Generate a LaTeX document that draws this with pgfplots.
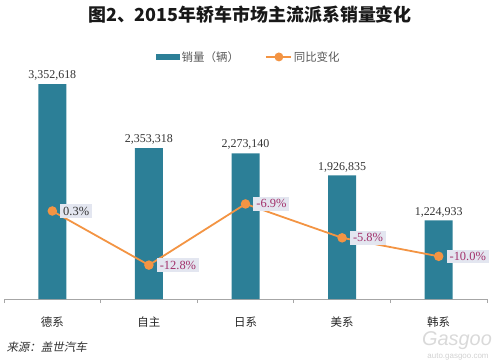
\documentclass[border=0pt]{standalone}
\usepackage{pgfplots}
\pgfplotsset{compat=1.18}
\usepackage{pgfplotstable}
\usepackage{fontspec}
\setmainfont{Liberation Serif}
\newfontfamily\cjk{Noto Sans CJK SC}
\newfontfamily\cjkit[FakeSlant=0.2]{Noto Sans CJK SC}
\newfontfamily\sans{Liberation Sans}
\definecolor{barc}{HTML}{2C7F97}
\definecolor{linec}{HTML}{F39443}
\definecolor{boxfill}{HTML}{E3E6F0}
\definecolor{labmag}{HTML}{A3316B}
\definecolor{labdark}{HTML}{333333}
\definecolor{legtext}{HTML}{595959}

\pgfplotstableread{
x y lab
0 3352618 3,352,618
1 2353318 2,353,318
2 2273140 2,273,140
3 1926835 1,926,835
4 1224933 1,224,933
}\bardata

\pgfplotstableread{
x y lab c
0 0.3 0.3 0
1 -12.0 -12.8 1
2 1.9 -6.9 1
3 -5.8 -5.8 1
4 -10.0 -10.0 1
}\linedata

\begin{document}
\begin{tikzpicture}
\useasboundingbox (0,0) rectangle (500bp,363bp);
\node[font=\cjk\bfseries\fontsize{18}{18}\selectfont, text=black!90] at (250bp,348bp) {图2、2015年轿车市场主流派系销量变化};

\begin{axis}[
  at={(4bp,64bp)}, anchor=south west,
  scale only axis, width=483bp, height=235bp,
  xmin=-0.5, xmax=4.5, ymin=0, ymax=3666000,
  axis x line*=bottom, axis y line=none,
  axis line style={gray!70, line width=0.8pt},
  xtick={0,1,2,3,4},
  xticklabels={德系,自主,日系,美系,韩系},
  major tick length=0pt,
  minor xtick={-0.5,0.5,1.5,2.5,3.5,4.5},
  minor tick length=4bp,
  tick align=outside,
  minor tick style={gray!70, line width=0.8pt},
  xticklabel style={anchor=center, yshift=-23bp, font=\cjk\fontsize{11.5}{12}\selectfont, text=black!85},
  ybar, bar width=28bp,
  nodes near coords, point meta=explicit symbolic,
  every node near coord/.append style={font=\fontsize{12}{12}\selectfont, text=labdark},
  clip=false,
]
\addplot[fill=barc, draw=none] table[x=x, y=y, meta=lab] {\bardata};
\end{axis}

\begin{axis}[
  at={(4bp,64bp)}, anchor=south west,
  scale only axis, width=483bp, height=235bp,
  xmin=-0.5, xmax=4.5, ymin=-19.7, ymax=33.7,
  axis lines=none,
  clip=false,
  legend columns=2,
  legend cell align=left,
  legend style={draw=none, fill=none, at={(axis description cs:0.315,1.03)}, anchor=west,
    inner sep=0pt, font=\cjk\fontsize{11.5}{12}\selectfont, text=legtext,
    /tikz/every even column/.append style={column sep=24bp}},
]
\addlegendimage{legend image code/.code={\fill[barc] (0bp,-2.5bp) rectangle (23bp,2.5bp);}}
\addlegendentry{销量（辆）}
\addplot[color=linec, line width=1.8bp, mark=*, mark size=3.8bp,
  mark options={fill=linec, draw=linec},
  legend image code/.code={\draw[linec, line width=1.8bp] (0bp,0bp) -- (25bp,0bp); \fill[linec] (13bp,0bp) circle (3.5bp);},
  nodes near coords={\ifdim\labc pt<0.5pt\color{labdark}\else\color{labmag}\fi\pgfplotspointmeta\%},
  point meta=explicit symbolic,
  visualization depends on={\thisrow{c} \as \labc},
  every node near coord/.append style={anchor=west, xshift=7bp, fill=boxfill, inner xsep=3bp, inner ysep=2.5bp, font=\fontsize{12.5}{13}\selectfont},
] table[x=x, y=y, meta=lab] {\linedata};
\addlegendentry{同比变化}
\end{axis}

\node[anchor=west, font=\cjkit\fontsize{11.5}{12}\selectfont, text=black!80] at (3bp,16bp) {来源：盖世汽车};
\node[font=\sans\itshape\fontsize{20}{20}\selectfont, text=gray!30] at (457bp,22bp) {Gasgoo};
\node[font=\sans\fontsize{8}{8}\selectfont, text=gray!35] at (458bp,6bp) {auto.gasgoo.com};
\end{tikzpicture}
\end{document}
